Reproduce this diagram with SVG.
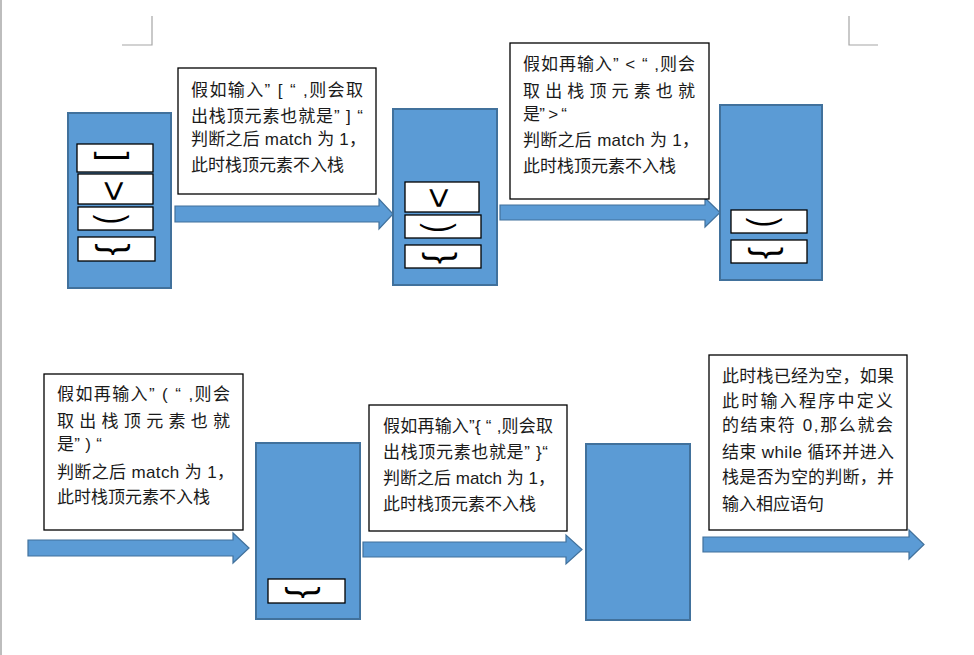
<svg xmlns="http://www.w3.org/2000/svg" width="974" height="655" viewBox="0 0 974 655">
<style>
.stack{fill:#5b9bd5;stroke:#41719c;stroke-width:2}
.cell{fill:#fff;stroke:#000;stroke-width:1.3}
.note{fill:#fff;stroke:#000;stroke-width:1.3}
.t{font-family:"Liberation Sans","Noto Sans CJK SC",sans-serif;font-size:17px;fill:#1a1a1a}
.g{font-family:"Liberation Sans",sans-serif;fill:#000;text-anchor:middle}
.arrow{fill:#5b9bd5;stroke:#41719c;stroke-width:1.2}
.mark{fill:none;stroke:#a6a6a6;stroke-width:1.2}
</style>
<rect width="974" height="655" fill="#fff"/>
<rect x="0" y="0" width="2" height="655" fill="#bdbdbd"/>
<path class="mark" d="M122,45 H152 V16"/>
<path class="mark" d="M849,16 V45 H878"/>

<g id="connectors">
<polygon class="arrow" points="175,206 379,206 379,199 393,214 379,229 379,222 175,222"/>
<polygon class="arrow" points="500,205 705,205 705,198 720,212.5 705,227 705,220 500,220"/>
<polygon class="arrow" points="28,540 233,540 233,533 249,548 233,563 233,556 28,556"/>
<polygon class="arrow" points="363,542 566,542 566,535 582,549.5 566,564 566,557 363,557"/>
<polygon class="arrow" points="703,537 909,537 909,530 924,544.5 909,559 909,552 703,552"/>
</g>

<g id="stack1">
<rect class="stack" x="68" y="113" width="103" height="175"/>
<rect class="cell" x="77" y="144" width="76" height="28"/>
<rect class="cell" x="78" y="174" width="75" height="30"/>
<rect class="cell" x="78" y="207" width="75" height="23"/>
<rect class="cell" x="78" y="237" width="77" height="24"/>
<text class="g" font-size="36" transform="translate(121.4,156.5) rotate(-90)">[</text>
<text class="g" font-size="36" transform="translate(125.7,191) rotate(-90)">&lt;</text>
<text class="g" font-size="38" transform="translate(120.9,219.5) rotate(-90) scale(0.75,1)">(</text>
<text class="g" font-size="36" transform="translate(121.9,249.5) rotate(-90)">{</text>
</g>

<g id="note1">
<rect class="note" x="178" y="68" width="198" height="126"/>
<text class="t" x="191" y="96" textLength="172">假如输入” [ “ ,则会取</text>
<text class="t" x="191" y="122" textLength="172">出栈顶元素也就是” ] “</text>
<text class="t" x="191" y="145" textLength="175">判断之后 match 为 1，</text>
<text class="t" x="191" y="171">此时栈顶元素不入栈</text>
</g>

<g id="stack2">
<rect class="stack" x="393" y="109" width="104" height="176"/>
<rect class="cell" x="405" y="182" width="74" height="30"/>
<rect class="cell" x="405" y="215" width="76" height="23"/>
<rect class="cell" x="405" y="245" width="76" height="23"/>
<text class="g" font-size="36" transform="translate(451.2,198) rotate(-90)">&lt;</text>
<text class="g" font-size="38" transform="translate(448.4,228) rotate(-90) scale(0.75,1)">(</text>
<text class="g" font-size="36" transform="translate(449.4,258) rotate(-90)">{</text>
</g>

<g id="note2">
<rect class="note" x="510" y="43" width="199" height="156"/>
<text class="t" x="523" y="70" textLength="172">假如再输入” &lt; “ ,则会</text>
<text class="t" x="523" y="96.5" textLength="172">取出栈顶元素也就</text>
<text class="t" x="523" y="120" textLength="44">是” &gt; “</text>
<text class="t" x="523" y="146" textLength="176">判断之后 match 为 1，</text>
<text class="t" x="523" y="171.5">此时栈顶元素不入栈</text>
</g>

<g id="stack3">
<rect class="stack" x="720" y="105" width="102" height="175"/>
<rect class="cell" x="731" y="210" width="76" height="23"/>
<rect class="cell" x="731" y="240" width="76" height="23"/>
<text class="g" font-size="38" transform="translate(774.4,222.5) rotate(-90) scale(0.75,1)">(</text>
<text class="g" font-size="36" transform="translate(774.9,253) rotate(-90)">{</text>
</g>

<g id="note3">
<rect class="note" x="44" y="374" width="199" height="156"/>
<text class="t" x="57" y="400" textLength="173">假如再输入” ( “ ,则会</text>
<text class="t" x="57" y="426.5" textLength="173">取出栈顶元素也就</text>
<text class="t" x="57" y="450" textLength="45">是” ) “</text>
<text class="t" x="57" y="478" textLength="177">判断之后 match 为 1，</text>
<text class="t" x="57" y="503">此时栈顶元素不入栈</text>
</g>

<g id="stack4">
<rect class="stack" x="256" y="443" width="104" height="176"/>
<rect class="cell" x="268" y="579" width="77" height="24"/>
<text class="g" font-size="36" transform="translate(312.4,592.5) rotate(-90)">{</text>
</g>

<g id="note4">
<rect class="note" x="369" y="405" width="198" height="126"/>
<text class="t" x="383" y="431.5" textLength="170">假如再输入”{ “ ,则会取</text>
<text class="t" x="383" y="458" textLength="165">出栈顶元素也就是” }“</text>
<text class="t" x="383" y="484" textLength="172">判断之后 match 为 1，</text>
<text class="t" x="383" y="510">此时栈顶元素不入栈</text>
</g>

<g id="stack5">
<rect class="stack" x="586" y="444" width="104" height="176"/>
</g>

<g id="note5">
<rect class="note" x="709" y="355" width="198" height="175"/>
<text class="t" x="722" y="381.5" textLength="172">此时栈已经为空，如果</text>
<text class="t" x="722" y="407" textLength="171">此时输入程序中定义</text>
<text class="t" x="722" y="431" textLength="171">的结束符  0,那么就会</text>
<text class="t" x="722" y="458" textLength="172">结束 while 循环并进入</text>
<text class="t" x="722" y="483" textLength="172">栈是否为空的判断，并</text>
<text class="t" x="722" y="509.5">输入相应语句</text>
</g>
</svg>
